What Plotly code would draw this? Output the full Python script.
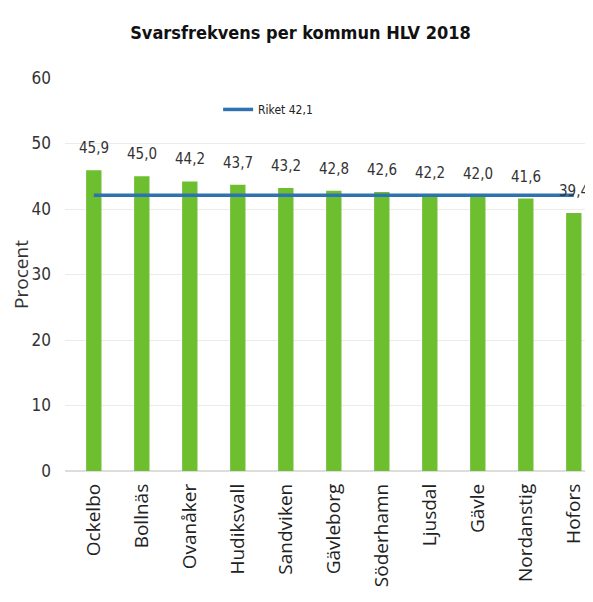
import plotly.graph_objects as go

kommuner = ["Ockelbo", "Bollnäs", "Ovanåker", "Hudiksvall", "Sandviken", "Gävleborg",
            "Söderhamn", "Ljusdal", "Gävle", "Nordanstig", "Hofors"]
svarsfrekvens = [45.9, 45.0, 44.2, 43.7, 43.2, 42.8, 42.6, 42.2, 42.0, 41.6, 39.4]
riket = [42.1] * len(kommuner)
riket_namn = "Riket 42,1"
y_ticks = [0, 10, 20, 30, 40, 50, 60]

labels = [f"{v:.1f}".replace(".", ",") for v in svarsfrekvens]

narrow = "Liberation Sans Narrow, Arial Narrow, DejaVu Sans Condensed, Liberation Sans, sans-serif"

fig = go.Figure()
fig.add_trace(go.Bar(
    x=kommuner, y=svarsfrekvens, width=0.32,
    marker=dict(color="#6ebf2f", line=dict(width=0)),
    showlegend=False,
))
fig.add_trace(go.Scatter(
    x=kommuner, y=riket, mode="lines", name=riket_namn,
    line=dict(color="#2f72b0", width=3.5),
))
for k, v, t in zip(kommuner, svarsfrekvens, labels):
    fig.add_annotation(x=k, y=v, text=t, showarrow=False, yanchor="bottom",
                       yshift=11, xanchor="center",
                       font=dict(family=narrow, size=15, color="#333333"))

fig.update_layout(
    width=585, height=594,
    paper_bgcolor="white", plot_bgcolor="white",
    margin=dict(l=57, r=0, t=70, b=131),
    title=dict(text="<b>Svarsfrekvens per kommun HLV 2018</b>", x=0.5, xanchor="center",
               y=0.958, yanchor="middle",
               font=dict(family=narrow, size=18, color="#111111")),
    legend=dict(orientation="h", x=0.29, y=0.92, xanchor="left", yanchor="middle",
                font=dict(family=narrow, size=12, color="#222222"),
                bgcolor="rgba(0,0,0,0)", itemwidth=30),
    bargap=0.6,
)
fig.update_xaxes(range=[-0.6, 10.4], tickangle=-90, automargin=False,
                 tickfont=dict(family="Open Sans, sans-serif", size=19, color="#222222"),
                 ticklabelstandoff=8,
                 showgrid=False, showline=False, ticks="")
fig.update_yaxes(range=[0, 60], tickvals=y_ticks, automargin=False,
                 tickfont=dict(family=narrow, size=17, color="#333333"),
                 showgrid=True, gridcolor="#ebebeb", gridwidth=1,
                 zeroline=True, zerolinecolor="#dddddd",
                 ticklabelstandoff=13,
                 title=dict(text="Procent", standoff=4,
                            font=dict(family="Open Sans, sans-serif", size=19, color="#333333")))

fig.write_html("out.html")
